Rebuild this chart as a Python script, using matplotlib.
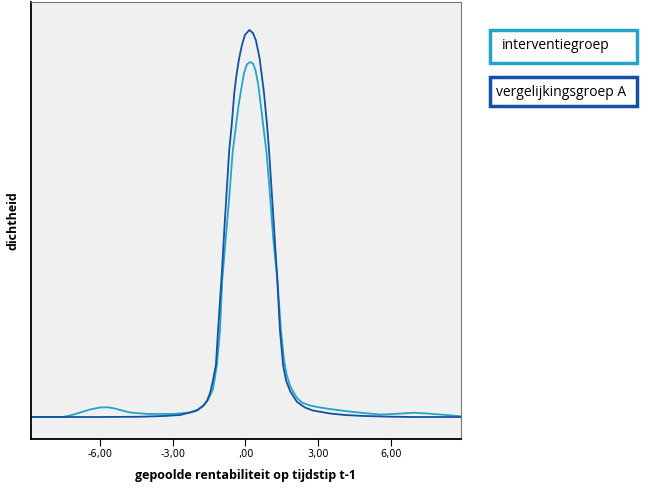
import matplotlib
matplotlib.use("Agg")
import matplotlib.pyplot as plt
from matplotlib.patches import Rectangle

# dichtheid (density) curves
x_verg = [-8.86, -5.98, -4.35, -3.32, -2.70, -2.29, -2.00, -1.75, -1.59, -1.46,
          -1.34, -1.22, -1.13, -0.98, -0.85, -0.67, -0.57, -0.46, -0.37, -0.26,
          -0.14, -0.02, 0.16, 0.31, 0.43, 0.58, 0.76, 0.89, 0.97, 1.13,
          1.30, 1.42, 1.55, 1.67, 1.84, 2.12, 2.45, 2.78, 3.48, 4.10,
          4.85, 5.96, 6.91, 8.89]
y_verg = [0.0, 0.0, 0.0003, 0.0013, 0.0025, 0.0056, 0.0081, 0.0138, 0.020, 0.030,
          0.046, 0.065, 0.109, 0.178, 0.246, 0.334, 0.365, 0.406, 0.428, 0.449,
          0.466, 0.478, 0.484, 0.480, 0.471, 0.449, 0.406, 0.365, 0.334, 0.259,
          0.178, 0.109, 0.065, 0.046, 0.0325, 0.019, 0.0119, 0.0081, 0.0044, 0.0025,
          0.0013, 0.0004, 0.0, 0.0]

x_interv = [-8.86, -7.53, -7.15, -6.82, -6.41, -6.00, -5.67, -5.38, -5.09, -4.76,
            -4.06, -2.99, -2.29, -1.96, -1.71, -1.55, -1.34, -1.18, -1.05, -0.96,
            -0.82, -0.68, -0.53, -0.39, -0.29, -0.16, -0.06, 0.06, 0.19, 0.31,
            0.41, 0.53, 0.73, 0.87, 1.01, 1.15, 1.32, 1.46, 1.59, 1.70,
            1.84, 1.96, 2.12, 2.33, 2.66, 3.07, 3.48, 4.10, 4.85, 5.55,
            6.16, 6.91, 7.40, 8.02, 8.89]
y_interv = [0.0, 0.0, 0.0025, 0.0056, 0.0094, 0.0119, 0.0121, 0.0106, 0.0081, 0.0056,
            0.0038, 0.0038, 0.0056, 0.0094, 0.015, 0.021, 0.035, 0.065, 0.109, 0.171,
            0.221, 0.271, 0.331, 0.365, 0.389, 0.413, 0.430, 0.441, 0.444, 0.442,
            0.434, 0.415, 0.365, 0.330, 0.2775, 0.221, 0.171, 0.109, 0.071, 0.0525,
            0.039, 0.032, 0.024, 0.018, 0.0144, 0.0119, 0.010, 0.0075, 0.005, 0.0031,
            0.0038, 0.0053, 0.0046, 0.0031, 0.0009]

ticks = [-6, -3, 0, 3, 6]
tick_labels = ["-6,00", "-3,00", ",00", "3,00", "6,00"]
groepen = ["interventiegroep", "vergelijkingsgroep A"]
kleuren = ["#22a5c9", "#1550a5"]

fig = plt.figure(figsize=(6.53, 4.96), dpi=100)
ax = fig.add_axes([0.047, 0.1143, 0.659, 0.8817])
ax.set_facecolor("#f0f0f0")

ax.plot(x_interv, y_interv, color=kleuren[0], lw=1.3)
ax.plot(x_verg, y_verg, color=kleuren[1], lw=1.3)

ax.set_xlim(-8.86, 8.89)
ax.set_ylim(-0.0279, 0.519)
ax.set_xticks(ticks)
ax.set_xticklabels(tick_labels, fontsize=7, family="DejaVu Sans")
ax.set_yticks([])
ax.tick_params(axis="x", length=5, width=0.8, pad=2)

ax.spines["left"].set_linewidth(1.3)
ax.spines["bottom"].set_linewidth(1.3)
ax.spines["top"].set_color("#7a7a7a")
ax.spines["right"].set_color("#7a7a7a")

ax.set_xlabel("gepoolde rentabiliteit op tijdstip t-1", fontsize=9, fontweight="bold",
              family="Open Sans", labelpad=7)
ax.set_ylabel("dichtheid", fontsize=9, fontweight="bold", family="Open Sans", labelpad=8)

# legend boxes (same width)
box_y = [0.873, 0.7863]
box_h = [0.0665, 0.0585]
txt_x = [0.7688, 0.7596]
txt_y = [0.9073, 0.8145]
for i in range(2):
    fig.patches.append(Rectangle((0.7504, box_y[i]), 0.2251, box_h[i], transform=fig.transFigure,
                                 fc="white", ec=kleuren[i], lw=2.5))
    fig.text(txt_x[i], txt_y[i], groepen[i], fontsize=10, family="Open Sans",
             va="center", ha="left")

fig.savefig("out.png", dpi=100)
